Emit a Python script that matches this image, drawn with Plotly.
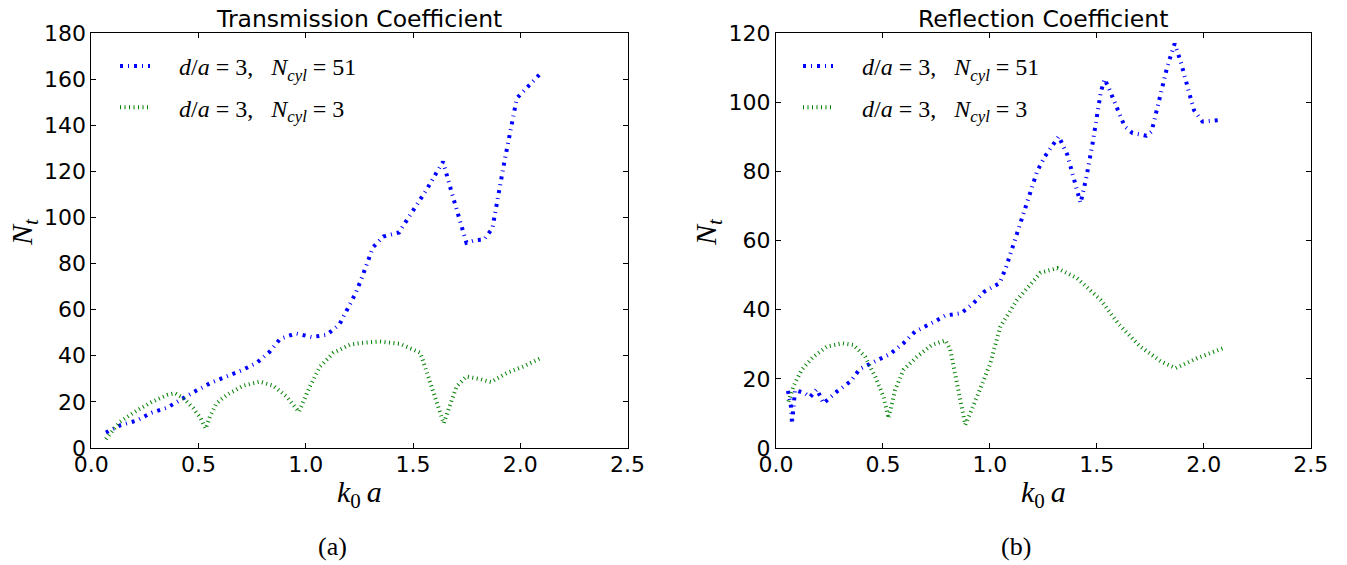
import plotly.graph_objects as go

# ---------------- data ----------------
trans_x_51 = [0.068, 0.137, 0.212, 0.281, 0.354, 0.421, 0.488, 0.558, 0.631, 0.704, 0.774, 0.831,
              0.881, 0.954, 1.027, 1.098, 1.157, 1.195, 1.230, 1.258, 1.286, 1.313, 1.361, 1.435,
              1.477, 1.521, 1.563, 1.603, 1.640, 1.684, 1.727, 1.749, 1.789, 1.831, 1.870, 1.897,
              1.926, 1.956, 1.984, 2.100]
trans_y_51 = [6.7, 9.9, 11.9, 15.3, 17.5, 21.3, 24.8, 28.3, 31.0, 33.8, 37.1, 41.7,
              47.4, 49.7, 48.1, 49.1, 53.6, 60.0, 66.7, 73.0, 80.0, 87.0, 91.7, 93.5,
              99.7, 105.8, 112.0, 118.4, 124.2, 109.6, 95.7, 89.0, 90.1, 90.4, 95.3, 109.7,
              124.2, 138.3, 151.7, 163.0]

trans_x_3 = [0.068, 0.134, 0.212, 0.281, 0.354, 0.390, 0.429, 0.475, 0.510, 0.533, 0.553, 0.584,
             0.631, 0.708, 0.786, 0.848, 0.911, 0.968, 1.019, 1.066, 1.128, 1.205, 1.252, 1.345,
             1.438, 1.532, 1.540, 1.643, 1.703, 1.749, 1.811, 1.863, 1.936, 2.013, 2.095]
trans_y_3 = [3.9, 11.4, 16.2, 19.9, 23.0, 23.8, 21.6, 17.3, 12.9, 8.4, 13.6, 19.4,
             23.0, 27.0, 28.8, 27.0, 22.3, 15.7, 26.7, 35.3, 41.2, 44.8, 45.5, 46.2,
             45.2, 41.4, 39.7, 10.7, 26.7, 31.0, 29.9, 28.6, 32.5, 35.3, 39.0]

refl_x_51 = [0.056, 0.070, 0.075, 0.089, 0.136, 0.159, 0.191, 0.222, 0.284, 0.347, 0.393, 0.464,
             0.534, 0.596, 0.651, 0.721, 0.792, 0.867, 0.924, 0.974, 1.046, 1.076, 1.124, 1.174,
             1.221, 1.257, 1.299, 1.322, 1.362, 1.405, 1.424, 1.452, 1.481, 1.518, 1.536, 1.556,
             1.599, 1.630, 1.666, 1.732, 1.756, 1.794, 1.830, 1.864, 1.892, 1.934, 1.955, 1.994,
             2.085]
refl_y_51 = [16.5, 12.0, 7.1, 16.8, 15.8, 14.7, 17.0, 12.9, 16.3, 19.2, 22.9, 25.0,
             27.2, 30.3, 33.7, 35.9, 38.3, 39.0, 41.9, 45.2, 47.7, 52.3, 61.6, 70.8,
             80.0, 84.3, 88.2, 90.1, 84.8, 75.2, 70.8, 78.5, 88.4, 102.7, 106.7, 104.1,
             97.8, 93.0, 91.1, 90.3, 91.5, 100.7, 110.4, 116.9, 111.8, 102.2, 97.6, 94.4,
             94.9]

refl_x_3 = [0.058, 0.081, 0.120, 0.175, 0.237, 0.308, 0.362, 0.417, 0.464, 0.503, 0.526, 0.557,
            0.596, 0.659, 0.729, 0.792, 0.815, 0.846, 0.885, 0.940, 1.002, 1.049, 1.127, 1.237,
            1.315, 1.408, 1.518, 1.600, 1.700, 1.800, 1.869, 1.970, 2.100]
refl_y_3 = [13.4, 17.7, 22.6, 26.4, 29.3, 30.3, 29.8, 26.4, 20.6, 14.8, 8.6, 16.8,
            22.6, 26.4, 29.8, 31.1, 28.4, 18.7, 6.7, 14.8, 24.5, 35.1, 42.8, 50.7,
            52.0, 49.1, 42.8, 36.0, 29.5, 25.0, 23.1, 26.0, 29.1]

x_ticks = [0.0, 0.5, 1.0, 1.5, 2.0, 2.5]
y_ticks_left = [0, 20, 40, 60, 80, 100, 120, 140, 160, 180]
y_ticks_right = [0, 20, 40, 60, 80, 100, 120]

label_51 = "<i>d</i>/<i>a</i>\u2005=\u20053,\u2002 <i>N</i><sub><i>cyl</i></sub>\u2005=\u200551"
label_3 = "<i>d</i>/<i>a</i>\u2005=\u20053,\u2002 <i>N</i><sub><i>cyl</i></sub>\u2005=\u20053"
pad = "\u00a0" * 4

BLUE = "#0000ff"
GREEN = "#008000"
W, H = 1347, 565
OFF = 8  # page body margin of the browser


def px(x):
    return (x - OFF) / W


def py(y):
    return 1 - (y - OFF) / H


fig = go.Figure()

blue_line = dict(color=BLUE, width=4, dash="3px,5px,1px,5px")
green_line = dict(color=GREEN, width=4, dash="1px,3.5px")

fig.add_trace(go.Scatter(x=trans_x_51, y=trans_y_51, mode="lines", line=blue_line,
                         name=pad + label_51, xaxis="x", yaxis="y", legend="legend",
                         legendgroup="a1"))
fig.add_trace(go.Scatter(x=trans_x_3, y=trans_y_3, mode="lines", line=green_line,
                         name=pad + label_3, xaxis="x", yaxis="y", legend="legend",
                         legendgroup="a2"))
fig.add_trace(go.Scatter(x=refl_x_51, y=refl_y_51, mode="lines", line=blue_line,
                         name=pad + label_51, xaxis="x2", yaxis="y2", legend="legend2",
                         legendgroup="b1"))
fig.add_trace(go.Scatter(x=refl_x_3, y=refl_y_3, mode="lines", line=green_line,
                         name=pad + label_3, xaxis="x2", yaxis="y2", legend="legend2",
                         legendgroup="b2"))

tickfont = dict(family="DejaVu Sans", size=22, color="black")
common_x = dict(range=[0, 2.5], tickmode="array", tickvals=x_ticks,
                ticktext=[f"{v:.1f}" for v in x_ticks], automargin=False,
                showline=True, linecolor="black", linewidth=1, mirror="ticks",
                ticks="inside", ticklen=5, tickwidth=1, tickcolor="black",
                showgrid=False, zeroline=False, tickfont=tickfont, ticklabelstandoff=-3)
common_y = dict(showline=True, linecolor="black", linewidth=1, mirror="ticks",
                ticks="inside", ticklen=5, tickwidth=1, tickcolor="black", automargin=False,
                showgrid=False, zeroline=False, tickfont=tickfont)

yd = [py(448), py(33)]
xl = [px(91.3), px(627.5)]
xr = [px(776), px(1310.7)]

legend_common = dict(font=dict(family="Liberation Serif", size=24, color="black"),
                     bgcolor="rgba(0,0,0,0)", borderwidth=0, traceorder="grouped",
                     tracegroupgap=7, xanchor="left", yanchor="top", itemwidth=30)

fig.update_layout(
    template="none",
    width=W, height=H,
    margin=dict(l=0, r=0, t=0, b=0, pad=0),
    paper_bgcolor="white", plot_bgcolor="white",
    xaxis=dict(domain=xl, anchor="y", **common_x),
    yaxis=dict(domain=yd, anchor="x", range=[0, 180], tickmode="array",
               tickvals=y_ticks_left, **common_y),
    xaxis2=dict(domain=xr, anchor="y2", **common_x),
    yaxis2=dict(domain=yd, anchor="x2", range=[0, 120], tickmode="array",
                tickvals=y_ticks_right, **common_y),
    legend=dict(x=px(115), y=py(44), **legend_common),
    legend2=dict(x=px(798), y=py(44), **legend_common),
    showlegend=True,
)

title_font = dict(family="DejaVu Sans", size=23.5, color="black")
label_font = dict(family="Liberation Serif", size=30, color="black")
cap_font = dict(family="Liberation Serif", size=26, color="black")

ann = [
    dict(text="Transmission Coefficient", x=(xl[0] + xl[1]) / 2, y=py(18.5), font=title_font),
    dict(text="Reflection Coefficient", x=(xr[0] + xr[1]) / 2, y=py(18.5), font=title_font),
    dict(text="<i>k</i><sub>0</sub>\u2009<i>a</i>", x=(xl[0] + xl[1]) / 2, y=py(494),
         font=label_font),
    dict(text="<i>k</i><sub>0</sub>\u2009<i>a</i>", x=(xr[0] + xr[1]) / 2, y=py(494),
         font=label_font),
    dict(text="<i>N</i><sub><i>t</i></sub>", x=px(24), y=py(232), textangle=-90,
         font=label_font),
    dict(text="<i>N</i><sub><i>t</i></sub>", x=px(708), y=py(232), textangle=-90,
         font=label_font),
    dict(text="(a)", x=px(332), y=py(546), font=cap_font),
    dict(text="(b)", x=px(1016), y=py(546), font=cap_font),
]
for a in ann:
    a.update(xref="paper", yref="paper", showarrow=False, xanchor="center", yanchor="middle")
    fig.add_annotation(**a)

fig.write_html("out.html")
